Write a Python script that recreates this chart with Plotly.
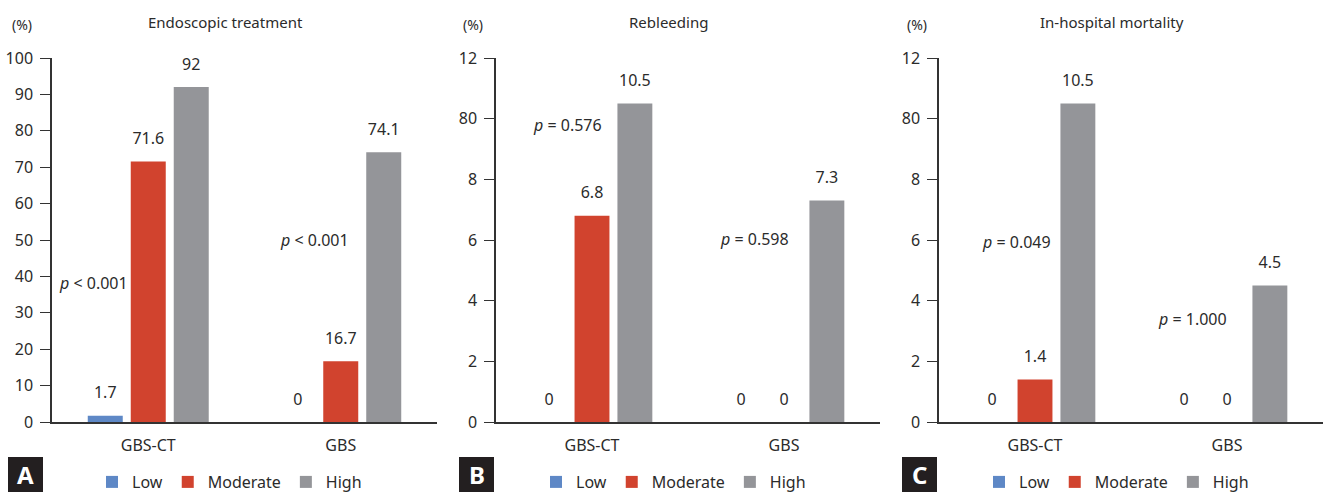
import plotly.graph_objects as go

# ---------------- data ----------------
categories = ["GBS-CT", "GBS"]
series_names = ["Low", "Moderate", "High"]

endo_low = [1.7, 0]
endo_mod = [71.6, 16.7]
endo_high = [92, 74.1]

rebl_low = [0, 0]
rebl_mod = [6.8, 0]
rebl_high = [10.5, 7.3]

mort_low = [0, 0]
mort_mod = [1.4, 0]
mort_high = [10.5, 4.5]

panel_titles = ["Endoscopic treatment", "Rebleeding", "In-hospital mortality"]
panel_letters = ["A", "B", "C"]

endo_tickvals = [0, 10, 20, 30, 40, 50, 60, 70, 80, 90, 100]
endo_ticktext = ["0", "10", "20", "30", "40", "50", "60", "70", "80", "90", "100"]
small_tickvals = [0, 2, 4, 6, 8, 10, 12]
small_ticktext = ["0", "2", "4", "6", "8", "80", "12"]

p_texts = [
    ["<i>p</i> &lt; 0.001", "<i>p</i> &lt; 0.001"],
    ["<i>p</i> = 0.576", "<i>p</i> = 0.598"],
    ["<i>p</i> = 0.049", "<i>p</i> = 1.000"],
]

# ---------------- style ----------------
W, H = 1325, 492
FONT = "Noto Sans"
TXT = "#2b2b2b"
AX = "#333333"
colors = ["#5E88C6", "#D1432E", "#949599"]

panels = [
    dict(data=[endo_low, endo_mod, endo_high], rng=[0, 100],
         tv=endo_tickvals, tt=endo_ticktext, xdom=(52, 437),
         title_x=225, pct_x=22, letter_x=(8, 43), legend_x=92,
         p_pos=[(0.109, 0.382), (0.683, 0.50)]),
    dict(data=[rebl_low, rebl_mod, rebl_high], rng=[0, 12],
         tv=small_tickvals, tt=small_ticktext, xdom=(496, 880),
         title_x=668, pct_x=473, letter_x=(459, 494), legend_x=536,
         p_pos=[(0.185, 0.816), (0.674, 0.503)]),
    dict(data=[mort_low, mort_mod, mort_high], rng=[0, 12],
         tv=small_tickvals, tt=small_ticktext, xdom=(939, 1323),
         title_x=1112, pct_x=917, letter_x=(902, 937), legend_x=979,
         p_pos=[(0.203, 0.495), (0.659, 0.283)]),
]

y_top_px, y_bot_px = 58, 422
ydom = [1 - y_bot_px / H, 1 - y_top_px / H]

fig = go.Figure()
annotations = []
shapes = []

for pi, p in enumerate(panels):
    suffix = "" if pi == 0 else str(pi + 1)
    xa, ya = "x" + suffix, "y" + suffix
    leg = "legend" + suffix
    for si, (name, vals) in enumerate(zip(series_names, p["data"])):
        fig.add_trace(go.Bar(
            x=categories, y=vals, name=name,
            marker=dict(color=colors[si], line=dict(width=0)),
            xaxis=xa, yaxis=ya, legend=leg,
            offsetgroup=name, alignmentgroup="a" + suffix,
            hoverinfo="skip",
        ))
    for si, (name, vals) in enumerate(zip(series_names, p["data"])):
        fig.add_trace(go.Scatter(
            x=categories, y=vals, mode="markers+text",
            text=[f"{v:g}" for v in vals], textposition="top center",
            textfont=dict(family=FONT, size=16, color=TXT),
            marker=dict(size=20, opacity=0),
            xaxis=xa, yaxis=ya, showlegend=False,
            offsetgroup=name, alignmentgroup="a" + suffix,
            cliponaxis=False, hoverinfo="skip",
        ))

    x0, x1 = p["xdom"]
    fig.layout["xaxis" + suffix] = dict(
        domain=[x0 / W, x1 / W], anchor=ya, type="category",
        range=[-0.5, 1.5], showline=True, linecolor=AX, linewidth=1.5,
        ticks="", showgrid=False, zeroline=False, fixedrange=True,
        tickfont=dict(family=FONT, size=16, color=TXT),
        ticklabelstandoff=8, automargin=False,
    )
    fig.layout["yaxis" + suffix] = dict(
        domain=ydom, anchor=xa, range=p["rng"],
        tickvals=p["tv"], ticktext=p["tt"],
        showline=True, linecolor=AX, linewidth=1.5,
        ticks="outside", ticklen=10, tickwidth=1.3, tickcolor=AX,
        showgrid=False, zeroline=False, fixedrange=True,
        tickfont=dict(family=FONT, size=16, color=TXT),
        ticklabelstandoff=4, automargin=False,
    )
    fig.layout[leg] = dict(
        orientation="h", x=p["legend_x"] / W, xanchor="left",
        y=1 - 482 / H, yanchor="middle",
        font=dict(family=FONT, size=16, color=TXT),
        bgcolor="rgba(0,0,0,0)", borderwidth=0,
        traceorder="normal",
    )

    # titles and unit labels
    annotations.append(dict(
        text=panel_titles[pi], x=p["title_x"] / W, y=1 - 22 / H,
        xref="paper", yref="paper", showarrow=False,
        xanchor="center", yanchor="middle",
        font=dict(family=FONT, size=15, color=TXT)))
    annotations.append(dict(
        text="(%)", x=p["pct_x"] / W, y=1 - 24 / H,
        xref="paper", yref="paper", showarrow=False,
        xanchor="center", yanchor="middle",
        font=dict(family=FONT, size=14, color=TXT)))
    # p values
    for (px, py), t in zip(p["p_pos"], p_texts[pi]):
        annotations.append(dict(
            text=t, x=px, y=py, xref=xa + " domain", yref=ya + " domain",
            showarrow=False, xanchor="center", yanchor="middle",
            font=dict(family=FONT, size=16, color=TXT)))
    # panel letter box
    lx0, lx1 = p["letter_x"]
    shapes.append(dict(
        type="rect", xref="paper", yref="paper",
        x0=lx0 / W, x1=lx1 / W, y0=0, y1=1 - 457 / H,
        fillcolor="#231F20", line=dict(width=0), layer="above"))
    annotations.append(dict(
        text="<b>" + panel_letters[pi] + "</b>",
        x=(lx0 + lx1) / 2 / W, y=1 - 474.5 / H,
        xref="paper", yref="paper", showarrow=False,
        xanchor="center", yanchor="middle",
        font=dict(family=FONT, size=24, color="white")))

fig.update_layout(
    template="none",
    width=W, height=H,
    margin=dict(l=0, r=0, t=0, b=0, autoexpand=False),
    paper_bgcolor="white", plot_bgcolor="white",
    barmode="group", bargap=0.33, bargroupgap=0.186,
    scattermode="group", scattergap=0.33,
    annotations=annotations, shapes=shapes,
    font=dict(family=FONT, color=TXT),
)

fig.write_html(
    "out.html",
    config={"displayModeBar": False},
    post_script="document.body.style.margin='0';document.body.style.overflow='hidden';",
)
